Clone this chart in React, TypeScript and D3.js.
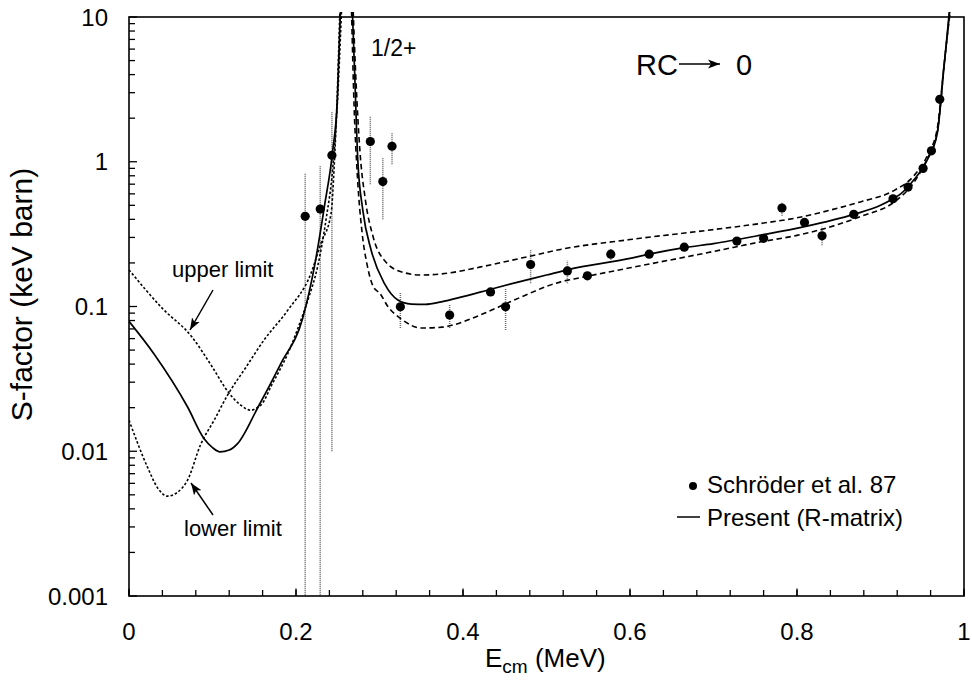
import React from "react";
import * as d3 from "d3";

const W = 972;
const H = 685;
const PL = 129, PR = 964, PT = 17, PB = 596;

const xTickValues = [0, 0.2, 0.4, 0.6, 0.8, 1];
const xTickLabels = ["0", "0.2", "0.4", "0.6", "0.8", "1"];
const yTickValues = [0.001, 0.01, 0.1, 1, 10];
const yTickLabels = ["0.001", "0.01", "0.1", "1", "10"];

// Schröder et al. 87 data
const expE = [0.211, 0.229, 0.243, 0.289, 0.304, 0.315, 0.325, 0.384, 0.433, 0.451, 0.481, 0.525, 0.549, 0.577, 0.623, 0.665, 0.728, 0.76, 0.782, 0.809, 0.83, 0.868, 0.915, 0.933, 0.951, 0.961, 0.971];
const expS = [0.42, 0.471, 1.107, 1.38, 0.73, 1.28, 0.0996, 0.0873, 0.126, 0.0996, 0.195, 0.176, 0.163, 0.23, 0.23, 0.257, 0.283, 0.296, 0.479, 0.381, 0.308, 0.433, 0.555, 0.668, 0.9, 1.19, 2.7];
const expLo = [0.0001, 0.0001, 0.01, 0.7, 0.4, 0.96, 0.071, 0.071, 0.118, 0.0687, 0.145, 0.145, 0.155, 0.21, 0.22, 0.245, 0.27, 0.28, 0.424, 0.36, 0.265, 0.41, 0.53, 0.64, 0.85, 1.12, 2.6];
const expHi = [0.835, 0.933, 2.2, 2.07, 1.06, 1.58, 0.126, 0.104, 0.134, 0.132, 0.245, 0.207, 0.171, 0.25, 0.24, 0.27, 0.3, 0.31, 0.53, 0.4, 0.356, 0.46, 0.58, 0.7, 0.95, 1.26, 2.8];

// Present (R-matrix)
const solidLeftE = [0, 0.03, 0.07, 0.09, 0.1, 0.109, 0.12, 0.13, 0.154, 0.182, 0.208, 0.222, 0.234, 0.244, 0.2495, 0.2532];
const solidLeftS = [0.079, 0.047, 0.0203, 0.0122, 0.0106, 0.0099, 0.0102, 0.0113, 0.0199, 0.0405, 0.083, 0.188, 0.49, 1.2, 2.67, 11];
const solidRightE = [0.2675, 0.27, 0.274, 0.28, 0.29, 0.306, 0.322, 0.338, 0.355, 0.374, 0.4, 0.43, 0.461, 0.5, 0.526, 0.6, 0.623, 0.665, 0.7, 0.757, 0.809, 0.868, 0.9, 0.915, 0.925, 0.94, 0.956, 0.968, 0.976, 0.98, 0.9825];
const solidRightS = [11, 4.5, 1.03, 0.464, 0.245, 0.144, 0.111, 0.104, 0.1035, 0.1077, 0.117, 0.13, 0.145, 0.165, 0.18, 0.215, 0.23, 0.255, 0.272, 0.311, 0.356, 0.433, 0.5, 0.555, 0.605, 0.75, 1.03, 1.57, 4.5, 7.7, 11];

// upper limit
const upperLeftE = [0, 0.04, 0.075, 0.1, 0.118, 0.133, 0.146, 0.153, 0.16, 0.17, 0.18, 0.19, 0.202, 0.214, 0.226, 0.236, 0.244, 0.2495, 0.2545];
const upperLeftS = [0.179, 0.097, 0.062, 0.038, 0.026, 0.021, 0.0192, 0.0199, 0.0215, 0.028, 0.036, 0.047, 0.07, 0.11, 0.19, 0.4, 0.9, 2.5, 11];
const upperRightE = [0.2685, 0.2715, 0.2765, 0.283, 0.2926, 0.3086, 0.3285, 0.35, 0.375, 0.42, 0.47, 0.52, 0.6, 0.7, 0.757, 0.8, 0.85, 0.877, 0.917, 0.94, 0.956, 0.968, 0.976, 0.9835];
const upperRightS = [11, 4, 1.2, 0.55, 0.3, 0.2, 0.172, 0.165, 0.168, 0.187, 0.216, 0.25, 0.29, 0.34, 0.375, 0.41, 0.48, 0.53, 0.637, 0.8, 1.1, 1.7, 4.6, 11];

// lower limit
const lowerLeftE = [0, 0.022, 0.035, 0.046, 0.058, 0.07, 0.086, 0.102, 0.118, 0.14, 0.162, 0.19, 0.218, 0.23, 0.242, 0.246, 0.249, 0.2525];
const lowerLeftS = [0.0164, 0.0078, 0.0055, 0.0049, 0.0052, 0.0063, 0.0112, 0.0164, 0.0244, 0.038, 0.059, 0.094, 0.17, 0.274, 0.44, 1.0, 2.5, 11];
const lowerRightE = [0.2665, 0.2695, 0.2735, 0.279, 0.2855, 0.2926, 0.3006, 0.31, 0.326, 0.35, 0.375, 0.39, 0.42, 0.46, 0.517, 0.54, 0.6, 0.7, 0.757, 0.8, 0.85, 0.877, 0.917, 0.94, 0.956, 0.968, 0.976, 0.983];
const lowerRightS = [11, 2.5, 0.8, 0.33, 0.19, 0.137, 0.123, 0.1, 0.082, 0.071, 0.072, 0.075, 0.087, 0.11, 0.148, 0.158, 0.185, 0.24, 0.28, 0.31, 0.37, 0.42, 0.53, 0.72, 1.05, 1.6, 4.5, 11];

const FONT = "'Liberation Sans', Arial, Helvetica, sans-serif";

export default function App() {
  const x = d3.scaleLinear().domain([0, 1]).range([PL, PR]);
  const y = d3.scaleLog().domain([0.001, 10]).range([PB, PT]);

  const line = d3
    .line<[number, number]>()
    .x((d) => x(d[0]))
    .y((d) => y(d[1]))
    .curve(d3.curveMonotoneX);

  const zip = (a: number[], b: number[]) => a.map((v, i) => [v, b[i]] as [number, number]);

  const xMinor = d3.range(0, 1.0001, 0.04);
  const yMinor: number[] = [];
  [0.001, 0.01, 0.1, 1].forEach((dec) => {
    for (let k = 2; k <= 9; k++) yMinor.push(dec * k);
  });

  const dotted = "2.5,2";
  const dashed = "5.5,3.5";

  return (
    <svg
      width={W}
      height={H}
      style={{ position: "absolute", left: 0, top: 0, background: "#fff" }}
      fontFamily={FONT}
    >
      <defs>
        <clipPath id="plotClip">
          <rect x={PL} y={PT - 5} width={PR - PL} height={PB - PT + 5} />
        </clipPath>
        <clipPath id="errClip">
          <rect x={PL} y={PT} width={PR - PL} height={PB - PT} />
        </clipPath>
        <marker
          id="ah"
          viewBox="0 0 12 10"
          refX="12"
          refY="5"
          markerWidth="12"
          markerHeight="10"
          markerUnits="userSpaceOnUse"
          orient="auto"
        >
          <path d="M0,0.5 L12,5 L0,9.5 L3,5 Z" fill="#000" />
        </marker>
      </defs>
      <rect x={0} y={0} width={W} height={H} fill="#fff" />

      {/* error bars */}
      <g clipPath="url(#errClip)">
        {expE.map((e, i) => (
          <line
            key={"eb" + i}
            x1={x(e)}
            x2={x(e)}
            y1={y(expLo[i])}
            y2={y(expHi[i])}
            stroke="#666"
            strokeWidth={1.5}
            strokeDasharray="1,1"
          />
        ))}
      </g>

      {/* curves */}
      <g clipPath="url(#plotClip)" fill="none" stroke="#000">
        <path d={line(zip(solidLeftE, solidLeftS)) || ""} strokeWidth={1.7} />
        <path d={line(zip(solidRightE, solidRightS)) || ""} strokeWidth={1.7} />
        <path d={line(zip(upperLeftE, upperLeftS)) || ""} strokeWidth={1.6} strokeDasharray={dotted} />
        <path d={line(zip(lowerLeftE, lowerLeftS)) || ""} strokeWidth={1.6} strokeDasharray={dotted} />
        <path d={line(zip(upperRightE, upperRightS)) || ""} strokeWidth={1.6} strokeDasharray={dashed} />
        <path d={line(zip(lowerRightE, lowerRightS)) || ""} strokeWidth={1.6} strokeDasharray={dashed} />
      </g>

      {/* points */}
      <g fill="#000">
        {expE.map((e, i) => (
          <circle key={"pt" + i} cx={x(e)} cy={y(expS[i])} r={4.6} />
        ))}
      </g>

      {/* frame */}
      <rect x={PL} y={PT} width={PR - PL} height={PB - PT} fill="none" stroke="#000" strokeWidth={1.6} />

      {/* ticks */}
      <g stroke="#000" strokeWidth={1.3}>
        {xMinor.map((t, i) => (
          <line key={"xm" + i} x1={x(t)} x2={x(t)} y1={PB} y2={PB - 6} />
        ))}
        {xTickValues.map((t, i) => (
          <line key={"xM" + i} x1={x(t)} x2={x(t)} y1={PB} y2={PB - 7.5} />
        ))}
        {yMinor.map((t, i) => (
          <line key={"ym" + i} x1={PL} x2={PL + 6} y1={y(t)} y2={y(t)} />
        ))}
        {yTickValues.map((t, i) => (
          <line key={"yM" + i} x1={PL} x2={PL + 8} y1={y(t)} y2={y(t)} />
        ))}
      </g>

      {/* tick labels */}
      <g fontSize={24} fill="#000">
        {xTickValues.map((t, i) => (
          <text key={"xl" + i} x={x(t)} y={640} textAnchor="middle">
            {xTickLabels[i]}
          </text>
        ))}
        {yTickValues.map((t, i) => (
          <text key={"yl" + i} x={108} y={y(t) + 8.5} textAnchor="end">
            {yTickLabels[i]}
          </text>
        ))}
      </g>

      {/* axis titles */}
      <text
        fontSize={30}
        textAnchor="middle"
        transform={`translate(32, ${(PT + PB) / 2 - 12}) rotate(-90)`}
      >
        S-factor (keV barn)
      </text>
      <text x={485} y={667} fontSize={26}>
        E
        <tspan fontSize={19} dy={6}>cm</tspan>
        <tspan dy={-6}> (MeV)</tspan>
      </text>

      {/* annotations */}
      <text x={371} y={56} fontSize={23}>1/2+</text>
      <text x={636} y={75} fontSize={29}>RC</text>
      <line x1={679} y1={64} x2={720} y2={64} stroke="#000" strokeWidth={1.5} markerEnd="url(#ah)" />
      <text x={736} y={75} fontSize={29}>0</text>

      <text x={172} y={277} fontSize={22}>upper limit</text>
      <line x1={213} y1={290} x2={190} y2={330} stroke="#000" strokeWidth={1.5} markerEnd="url(#ah)" />
      <text x={184} y={536} fontSize={22}>lower limit</text>
      <line x1={213} y1={515} x2={191} y2={483} stroke="#000" strokeWidth={1.5} markerEnd="url(#ah)" />

      {/* legend */}
      <circle cx={693} cy={486} r={4} fill="#000" />
      <text x={707} y={493} fontSize={24}>Schröder et al. 87</text>
      <line x1={677} x2={700} y1={517} y2={517} stroke="#000" strokeWidth={1.5} />
      <text x={707} y={526} fontSize={24}>Present (R-matrix)</text>
    </svg>
  );
}
